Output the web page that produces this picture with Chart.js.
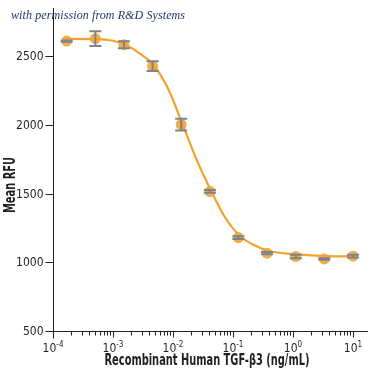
<!DOCTYPE html>
<html>
<head>
<meta charset="utf-8">
<script src="https://cdn.jsdelivr.net/npm/chart.js@4"></script>
<style>
  html, body { margin: 0; padding: 0; background: #fff; }
  #wrap { position: relative; width: 375px; height: 375px; }
  #credit {
    position: absolute; left: 11px; top: 8px;
    font: italic 12px "Liberation Serif", "DejaVu Serif", serif;
    letter-spacing: 0.1px;
    color: #1f2d5c; white-space: nowrap;
  }
</style>
</head>
<body>
<div id="wrap">
  <canvas id="rfuChart" width="375" height="375"></canvas>
  <div id="credit">with permission from R&amp;D Systems</div>
</div>
<script>
// --- Data ---
const concentration = [0.000169, 0.000508, 0.00152, 0.00457, 0.0137, 0.0412, 0.123, 0.370, 1.11, 3.33, 10];
const meanRFU = [2609, 2627, 2583, 2427, 2002, 1515, 1180, 1066, 1042, 1024, 1044];
const rfuError = [5, 53, 25, 36, 43, 10, 10, 8, 12, 6, 10];

// fitted curve, read at points along the drawn line
const fitConc = [0.00015, 0.00054, 0.001, 0.00165, 0.0028, 0.0048, 0.0083, 0.0147, 0.025, 0.043, 0.074, 0.13, 0.22, 0.38, 1.17, 3.5, 10];
const fitRFU = [2625, 2624, 2612, 2580, 2518, 2432, 2262, 1995, 1742, 1521, 1326, 1193, 1127, 1084, 1057, 1045, 1043];

const yTicks = [500, 1000, 1500, 2000, 2500];
const xDecades = [-4, -3, -2, -1, 0, 1];

const xTitle = "Recombinant Human TGF-\u03b23 (ng/mL)";
const yTitle = "Mean RFU";

const ORANGE = "#f4a22d";
const GREY = "#7c8391";
const INK = "#231f20";
const NARROW = '"Liberation Sans Narrow", "DejaVu Sans Condensed", "Liberation Sans", sans-serif';

// --- Axes, ticks, titles and error bars ---
const axesPlugin = {
    id: "axes",
    afterDatasetsDraw(chart) {
        const ctx = chart.ctx;
        const xs = chart.scales.x, ys = chart.scales.y;

        // error bars
        ctx.save();
        ctx.strokeStyle = GREY;
        ctx.lineWidth = 2;
        concentration.forEach((c, i) => {
            const px = xs.getPixelForValue(c);
            const top = ys.getPixelForValue(meanRFU[i] + rfuError[i]);
            const bot = ys.getPixelForValue(meanRFU[i] - rfuError[i]);
            ctx.beginPath();
            ctx.moveTo(px, top); ctx.lineTo(px, bot);
            ctx.moveTo(px - 6, top); ctx.lineTo(px + 6, top);
            ctx.moveTo(px - 6, bot); ctx.lineTo(px + 6, bot);
            ctx.stroke();
        });
        ctx.restore();
    },
    afterDraw(chart) {
        const ctx = chart.ctx;
        const xs = chart.scales.x, ys = chart.scales.y;
        const area = chart.chartArea;
        const x0 = Math.round(area.left) + 0.5;
        const y0 = Math.round(area.bottom) + 0.5;

        ctx.save();
        ctx.strokeStyle = INK;
        ctx.fillStyle = INK;
        ctx.lineWidth = 1;

        // axis lines
        ctx.beginPath();
        ctx.moveTo(x0, area.top); ctx.lineTo(x0, y0 + 7);
        ctx.moveTo(x0, y0); ctx.lineTo(area.right, y0);
        ctx.stroke();

        // y ticks + labels
        ctx.font = "12px " + NARROW;
        ctx.textAlign = "right";
        ctx.textBaseline = "middle";
        yTicks.forEach(v => {
            const py = Math.round(ys.getPixelForValue(v)) + 0.5;
            ctx.beginPath();
            ctx.moveTo(x0 - 8, py); ctx.lineTo(x0, py);
            ctx.stroke();
            ctx.fillText(String(v), x0 - 10, py);
        });

        // x ticks: decades long, 2..9 short
        xDecades.forEach(d => {
            for (let m = 1; m <= 9; m++) {
                const v = m * Math.pow(10, d);
                if (v > xs.max) break;
                const px = Math.round(xs.getPixelForValue(v)) + 0.5;
                const len = m === 1 ? 6 : 4;
                ctx.beginPath();
                ctx.moveTo(px, y0); ctx.lineTo(px, y0 + len);
                ctx.stroke();
            }
        });

        // x labels 10^n
        xDecades.forEach(d => {
            const px = xs.getPixelForValue(Math.pow(10, d));
            const exp = String(d);
            ctx.font = "12px " + NARROW;
            const wBase = ctx.measureText("10").width;
            ctx.font = "8px " + NARROW;
            const wExp = ctx.measureText(exp).width;
            const start = px - (wBase + wExp) / 2;
            ctx.textAlign = "left";
            ctx.textBaseline = "alphabetic";
            ctx.font = "12px " + NARROW;
            ctx.fillText("10", start, y0 + 20);
            ctx.font = "8px " + NARROW;
            ctx.fillText(exp, start + wBase, y0 + 15);
        });

        // axis titles: tall bold type squeezed to the reference width
        ctx.font = "bold 15px " + NARROW;
        const squeeze = 205 / ctx.measureText(xTitle).width;
        ctx.textAlign = "center";
        ctx.textBaseline = "middle";

        ctx.save();
        ctx.translate(207, 361);
        ctx.scale(squeeze, 1);
        ctx.fillText(xTitle, 0, 0);
        ctx.restore();

        ctx.save();
        ctx.translate(11, 185);
        ctx.rotate(-Math.PI / 2);
        ctx.scale(squeeze, 1);
        ctx.fillText(yTitle, 0, 0);
        ctx.restore();

        ctx.restore();
    }
};

// --- Chart ---
const ctx = document.getElementById("rfuChart").getContext("2d");
new Chart(ctx, {
    type: "scatter",
    data: {
        datasets: [
            {
                label: "Mean RFU",
                data: concentration.map((c, i) => ({ x: c, y: meanRFU[i] })),
                backgroundColor: "rgba(244, 164, 50, 0.9)",
                borderWidth: 0,
                pointRadius: 5.5,
                showLine: false,
                order: 1
            },
            {
                label: "Fit",
                data: fitConc.map((c, i) => ({ x: c, y: fitRFU[i] })),
                borderColor: ORANGE,
                borderWidth: 2.2,
                pointRadius: 0,
                showLine: true,
                cubicInterpolationMode: "monotone",
                order: 2
            }
        ]
    },
    options: {
        responsive: false,
        animation: false,
        layout: { padding: { left: 53, right: 7, top: 8, bottom: 44 } },
        plugins: { legend: { display: false }, tooltip: { enabled: false } },
        scales: {
            x: { type: "logarithmic", min: 0.0001, max: 17.8, display: false },
            y: { type: "linear", min: 500, max: 2850, display: false }
        }
    },
    plugins: [axesPlugin]
});
</script>
</body>
</html>
